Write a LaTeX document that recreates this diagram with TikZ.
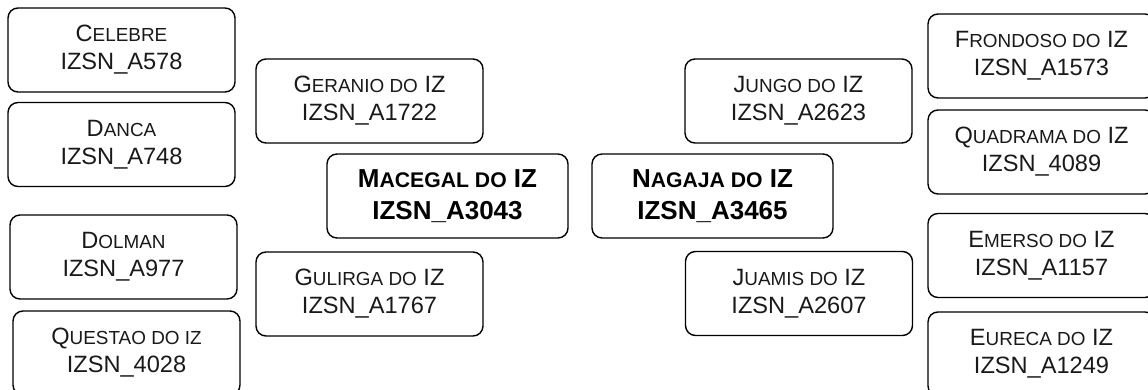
\documentclass[tikz,border=0pt]{standalone}
\usepackage{fontspec}
\setmainfont{Liberation Sans}
\newcommand\rs[1]{{\fontsize{18.9pt}{28pt}\selectfont #1}}
\newcommand\bs[1]{{\fontsize{21.2pt}{32pt}\selectfont #1}}
\tikzset{
  box/.style={draw=black, line width=1.4pt, rounded corners=10pt, align=center,
    inner sep=0pt, minimum width=227pt, minimum height=84pt,
    font=\fontsize{23.6pt}{28pt}\selectfont, text=black!90},
  mainbox/.style={box, minimum width=241pt,
    font=\fontsize{26pt}{32pt}\selectfont\bfseries, text=black}
}
\begin{document}
\begin{tikzpicture}[x=1pt, y=-1pt]
\useasboundingbox (0,0) rectangle (1148,390);
% left column
\node[box] (celebre) at (121.5,50) {C\rs{ELEBRE}\\IZSN\_A578};
\node[box] (danca) at (121.5,144.5) {D\rs{ANCA}\\IZSN\_A748};
\node[box] (dolman) at (123.5,257) {D\rs{OLMAN}\\IZSN\_A977};
\node[box] (questao) at (126.5,353) {Q\rs{UESTAO DO IZ}\\IZSN\_4028};
% inner left
\node[box] (geranio) at (369.5,101) {G\rs{ERANIO DO} IZ\\IZSN\_A1722};
\node[box] (gulirga) at (369.5,294) {G\rs{ULIRGA DO} IZ\\IZSN\_A1767};
% centre
\node[mainbox] (macegal) at (447.5,196) {M\bs{ACEGAL DO} IZ\\IZSN\_A3043};
\node[mainbox] (nagaja) at (712.5,196) {N\bs{AGAJA DO} IZ\\IZSN\_A3465};
% inner right
\node[box] (jungo) at (798.5,101) {J\rs{UNGO DO} IZ\\IZSN\_A2623};
\node[box] (juamis) at (799,293.5) {J\rs{UAMIS DO} IZ\\IZSN\_A2607};
% right column
\node[box] (frondoso) at (1041.5,56) {F\rs{RONDOSO DO} IZ\\IZSN\_A1573};
\node[box] (quadrama) at (1041.5,152) {Q\rs{UADRAMA DO} IZ\\IZSN\_4089};
\node[box] (emerso) at (1041.5,255.5) {E\rs{MERSO DO} IZ\\IZSN\_A1157};
\node[box] (eureca) at (1041.5,354) {E\rs{URECA DO} IZ\\IZSN\_A1249};
\end{tikzpicture}
\end{document}
